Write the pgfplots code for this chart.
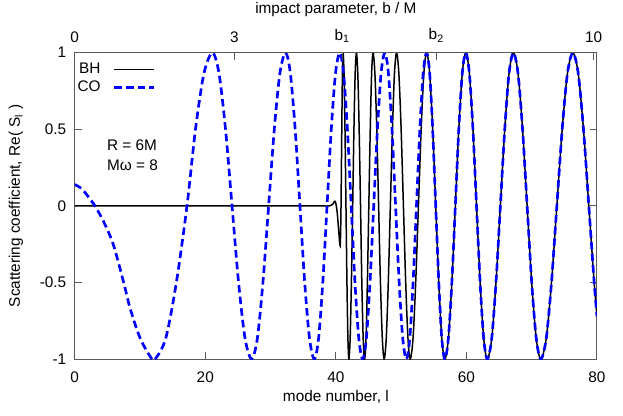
\documentclass[border=0pt]{standalone}
\usepackage{fontspec}
\setmainfont{Liberation Sans}
\usepackage{pgfplots}
\pgfplotsset{compat=1.18}

\definecolor{COblue}{RGB}{0,0,255}
\definecolor{frame}{RGB}{90,90,90}

\pgfplotsset{
  /pgf/number format/assume math mode=true,
  common/.style={
    width=313.2pt, height=183.8pt, scale only axis,
    xmin=0, xmax=80, ymin=-1, ymax=1,
    tick align=inside, major tick length=4.2pt,
    axis line style={frame, line width=0.6pt},
    tick style={frame, line width=0.6pt},
  },
}

\begin{document}
\fontsize{9.2pt}{11pt}\selectfont
\begin{tikzpicture}
\useasboundingbox (-44.8pt,-33.6pt) rectangle (328.8pt,215.4pt);

\begin{axis}[common,
    xtick={0,20,40,60,80},
    ytick={-1,-0.5,0,0.5,1},
    yticklabels={-1,-0.5,0,0.5,1},
    xtick pos=left,
    ytick pos=both, yticklabel pos=left,
    xticklabel style={yshift=-4.5pt},
    yticklabel style={xshift=-1.8pt},
    legend plot pos=right,
    legend cell align=right,
    legend style={at={(0,1)}, anchor=north west, draw=none, fill=none,
      xshift=-3.5pt, yshift=-2pt, row sep=-1pt, column sep=5.5pt},
    legend image code/.code={\draw[#1] (0pt,0pt) -- (24pt,0pt);},
  ]
  % black hole
  \addplot[black, line width=0.9pt, smooth] table {
    l     S
    0     0
    10    0
    20    0
    30    0
    36    0
    38    0
    39.0  0
    39.5  0.01
    39.9  0.03
    40.2  -0.04
    40.45 -0.17
    40.66 -0.26
    40.77 -0.075
    40.88 0.37
    40.99 0.815
    41.1  1
    41.25 0.866
    41.4  0.5
    41.55 0
    41.7  -0.5
    41.85 -0.866
    42.0  -1
    42.19 -0.866
    42.38 -0.5
    42.58 0
    42.77 0.5
    42.96 0.866
    43.15 1
    43.36 0.866
    43.57 0.5
    43.78 0
    43.98 -0.5
    44.19 -0.866
    44.4  -1
    44.62 -0.866
    44.83 -0.5
    45.05 0
    45.27 0.5
    45.48 0.866
    45.7  1
    45.98 0.866
    46.27 0.5
    46.55 0
    46.83 -0.5
    47.12 -0.866
    47.4  -1
    47.72 -0.866
    48.03 -0.5
    48.35 0
    48.67 0.5
    48.98 0.866
    49.3  1
    49.65 0.866
    50.0  0.5
    50.35 0
    50.7  -0.5
    51.05 -0.866
    51.4  -1
    51.82 -0.866
    52.23 -0.5
    52.65 0
    53.07 0.5
    53.48 0.866
    53.9  1
    54.37 0.866
    54.83 0.5
    55.3  0
    55.77 -0.5
    56.23 -0.866
    56.7  -1
    57.23 -0.866
    57.77 -0.5
    58.3  0
    58.83 0.5
    59.37 0.866
    59.9  1
    60.45 0.866
    61.0  0.5
    61.55 0
    62.1  -0.5
    62.65 -0.866
    63.2  -1
    63.87 -0.866
    64.53 -0.5
    65.2  0
    65.87 0.5
    66.53 0.866
    67.2  1
    67.9  0.866
    68.6  0.5
    69.3  0
    70.0  -0.5
    70.7  -0.866
    71.4  -1
    72.22 -0.866
    73.03 -0.5
    73.85 0
    74.67 0.5
    75.48 0.866
    76.3  1
    77.12 0.866
    77.93 0.5
    78.75 0
    79.57 -0.5
    80    -0.72
  };
  \addlegendentry{BH}
  % compact object
  \addplot[COblue, line width=1.6pt, smooth, dash pattern=on 4.5pt off 2.5pt] table {
    l     S
    0     0.14
    1     0.115
    2     0.065
    3.1   0
    4.4   -0.10
    5.9   -0.25
    7.5   -0.5
    8.5   -0.67
    10.0  -0.86
    11.6  -0.985
    12.3  -1
    13.93 -0.866
    15.57 -0.5
    17.2  0
    18.5  0.5
    19.8  0.866
    21.1  1
    22.1  0.866
    23.1  0.5
    24.1  0
    25.1  -0.5
    26.1  -0.866
    27.1  -1
    27.97 -0.866
    28.83 -0.5
    29.7  0
    30.57 0.5
    31.43 0.866
    32.3  1
    33.03 0.866
    33.77 0.5
    34.5  0
    35.23 -0.5
    35.97 -0.866
    36.7  -1
    37.35 -0.866
    38.0  -0.5
    38.65 0
    39.3  0.5
    39.95 0.866
    40.6  1
    41.18 0.866
    41.77 0.5
    42.35 0
    42.93 -0.5
    43.52 -0.866
    44.1  -1
    44.67 -0.866
    45.23 -0.5
    45.8  0
    46.37 0.5
    46.93 0.866
    47.5  1
    48.05 0.866
    48.6  0.5
    49.15 0
    49.7  -0.5
    50.25 -0.866
    50.8  -1
    51.32 -0.866
    51.83 -0.5
    52.35 0
    52.87 0.5
    53.38 0.866
    53.9  1
    54.37 0.866
    54.83 0.5
    55.3  0
    55.77 -0.5
    56.23 -0.866
    56.7  -1
    57.23 -0.866
    57.77 -0.5
    58.3  0
    58.83 0.5
    59.37 0.866
    59.9  1
    60.45 0.866
    61.0  0.5
    61.55 0
    62.1  -0.5
    62.65 -0.866
    63.2  -1
    63.87 -0.866
    64.53 -0.5
    65.2  0
    65.87 0.5
    66.53 0.866
    67.2  1
    67.9  0.866
    68.6  0.5
    69.3  0
    70.0  -0.5
    70.7  -0.866
    71.4  -1
    72.22 -0.866
    73.03 -0.5
    73.85 0
    74.67 0.5
    75.48 0.866
    76.3  1
    77.12 0.866
    77.93 0.5
    78.75 0
    79.57 -0.5
    80    -0.72
  };
  \addlegendentry{CO}

  \node[anchor=west, inner sep=0pt] at (axis cs:4.9,0.394) {R = 6M};
  \node[anchor=west, inner sep=0pt] at (axis cs:4.9,0.263) {Mω = 8};
\end{axis}

% top axis: impact parameter
\begin{axis}[common,
    axis x line*=top, axis y line=none,
    xtick={0,24.45,41,55.4,79.5},
    xticklabels={0,3,b\textsubscript{1},b\textsubscript{2},10},
    xticklabel style={yshift=3pt},
  ]
\end{axis}

\node at (156.6pt,-22.8pt) {mode number, l};
\node at (156.6pt,209.4pt) {impact parameter, b / M};
\node[rotate=90] at (-35.2pt,91.9pt) {Scattering coefficient, Re( S\textsubscript{l} )};
\end{tikzpicture}
\end{document}
